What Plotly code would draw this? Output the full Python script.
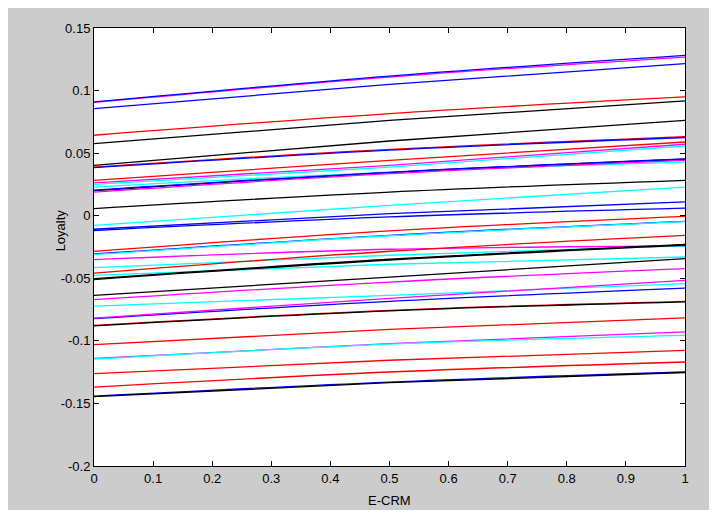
import plotly.graph_objects as go

# x positions at which each curve's value was read (left edge, middle, right edge)
x_points = [0.0, 0.5, 1.0]

line_colors = [
    "magenta", "blue", "blue", "red", "black", "black", "red", "blue", "red",
    "magenta", "cyan", "cyan", "black", "blue", "magenta", "black", "cyan",
    "blue", "blue", "red", "blue", "cyan", "magenta", "cyan", "cyan", "red",
    "black", "black", "black", "magenta", "cyan", "blue", "magenta", "red",
    "black", "red", "magenta", "cyan", "red", "red", "blue", "black",
]
y_left = [
    0.0905, 0.0910, 0.0856, 0.0643, 0.0576, 0.0403, 0.0389, 0.0384, 0.0283,
    0.0262, 0.0250, 0.0229, 0.0200, 0.0205, 0.0189, 0.0057, -0.0077,
    -0.0108, -0.0118, -0.0285, -0.0306, -0.0310, -0.0351, -0.0415, -0.0476, -0.0458,
    -0.0503, -0.0510, -0.0636, -0.0671, -0.0722, -0.0823, -0.0818, -0.0876,
    -0.0880, -0.1030, -0.1140, -0.1145, -0.1262, -0.1369, -0.1441, -0.1446,
]
y_mid = [
    0.1108, 0.1116, 0.1050, 0.0816, 0.0762, 0.0597, 0.0530, 0.0524, 0.0443,
    0.0403, 0.0389, 0.0349, 0.0345, 0.0347, 0.0336, 0.0189, 0.0083,
    0.0016, -0.0010, -0.0121, -0.0157, -0.0160, -0.0268, -0.0316, -0.0388, -0.0284,
    -0.0348, -0.0354, -0.0490, -0.0530, -0.0636, -0.0684, -0.0660, -0.0756,
    -0.0760, -0.0908, -0.1022, -0.1026, -0.1155, -0.1249, -0.1329, -0.1334,
]
y_right = [
    0.1268, 0.1282, 0.1215, 0.0949, 0.0917, 0.0762, 0.0632, 0.0625, 0.0589,
    0.0571, 0.0557, 0.0429, 0.0451, 0.0453, 0.0443, 0.0283, 0.0229,
    0.0110, 0.0060, -0.0005, -0.0045, -0.0048, -0.0242, -0.0240, -0.0330, -0.0157,
    -0.0229, -0.0234, -0.0343, -0.0423, -0.0543, -0.0578, -0.0516, -0.0684,
    -0.0688, -0.0817, -0.0929, -0.0956, -0.1076, -0.1169, -0.1249, -0.1253,
]

x_tick_vals = [0, 0.1, 0.2, 0.3, 0.4, 0.5, 0.6, 0.7, 0.8, 0.9, 1]
x_tick_text = ["0", "0.1", "0.2", "0.3", "0.4", "0.5", "0.6", "0.7", "0.8", "0.9", "1"]
y_tick_vals = [-0.2, -0.15, -0.1, -0.05, 0, 0.05, 0.1, 0.15]
y_tick_text = ["-0.2", "-0.15", "-0.1", "-0.05", "0", "0.05", "0.1", "0.15"]

x_title = "E-CRM"
y_title = "Loyalty"

FONT = "Liberation Sans, Arial, sans-serif"
GRAY = "#cccccc"

fig = go.Figure()
for c, a, m, b in zip(line_colors, y_left, y_mid, y_right):
    fig.add_trace(go.Scatter(
        x=x_points, y=[a, m, b], mode="lines",
        line=dict(color=c, width=1.3, shape="spline", smoothing=1.0),
        hoverinfo="skip", showlegend=False,
    ))

axis_common = dict(
    showline=True, linecolor="black", linewidth=1, mirror="ticks",
    ticks="inside", ticklen=5, tickcolor="black", tickwidth=1,
    showgrid=False, zeroline=False,
    tickfont=dict(family=FONT, size=13, color="black"),
)

fig.update_xaxes(range=[0, 1], tickvals=x_tick_vals, ticktext=x_tick_text, **axis_common)
fig.update_yaxes(range=[-0.2, 0.15], tickvals=y_tick_vals, ticktext=y_tick_text, **axis_common)

fig.add_annotation(text=x_title, xref="paper", yref="paper", x=0.5, y=-0.078,
                   xanchor="center", yanchor="middle", showarrow=False,
                   font=dict(family=FONT, size=13, color="black"))
fig.add_annotation(text=y_title, xref="paper", yref="paper", x=-0.0575, y=0.538,
                   xanchor="center", yanchor="middle", showarrow=False, textangle=-90,
                   font=dict(family=FONT, size=13, color="black"))

fig.update_layout(
    width=704, height=502,
    margin=dict(l=86, r=27, t=20, b=44),
    paper_bgcolor=GRAY, plot_bgcolor="white",
    font=dict(family=FONT, size=13, color="black"),
    showlegend=False,
)

fig.write_html("out.html", config={"displayModeBar": False})
